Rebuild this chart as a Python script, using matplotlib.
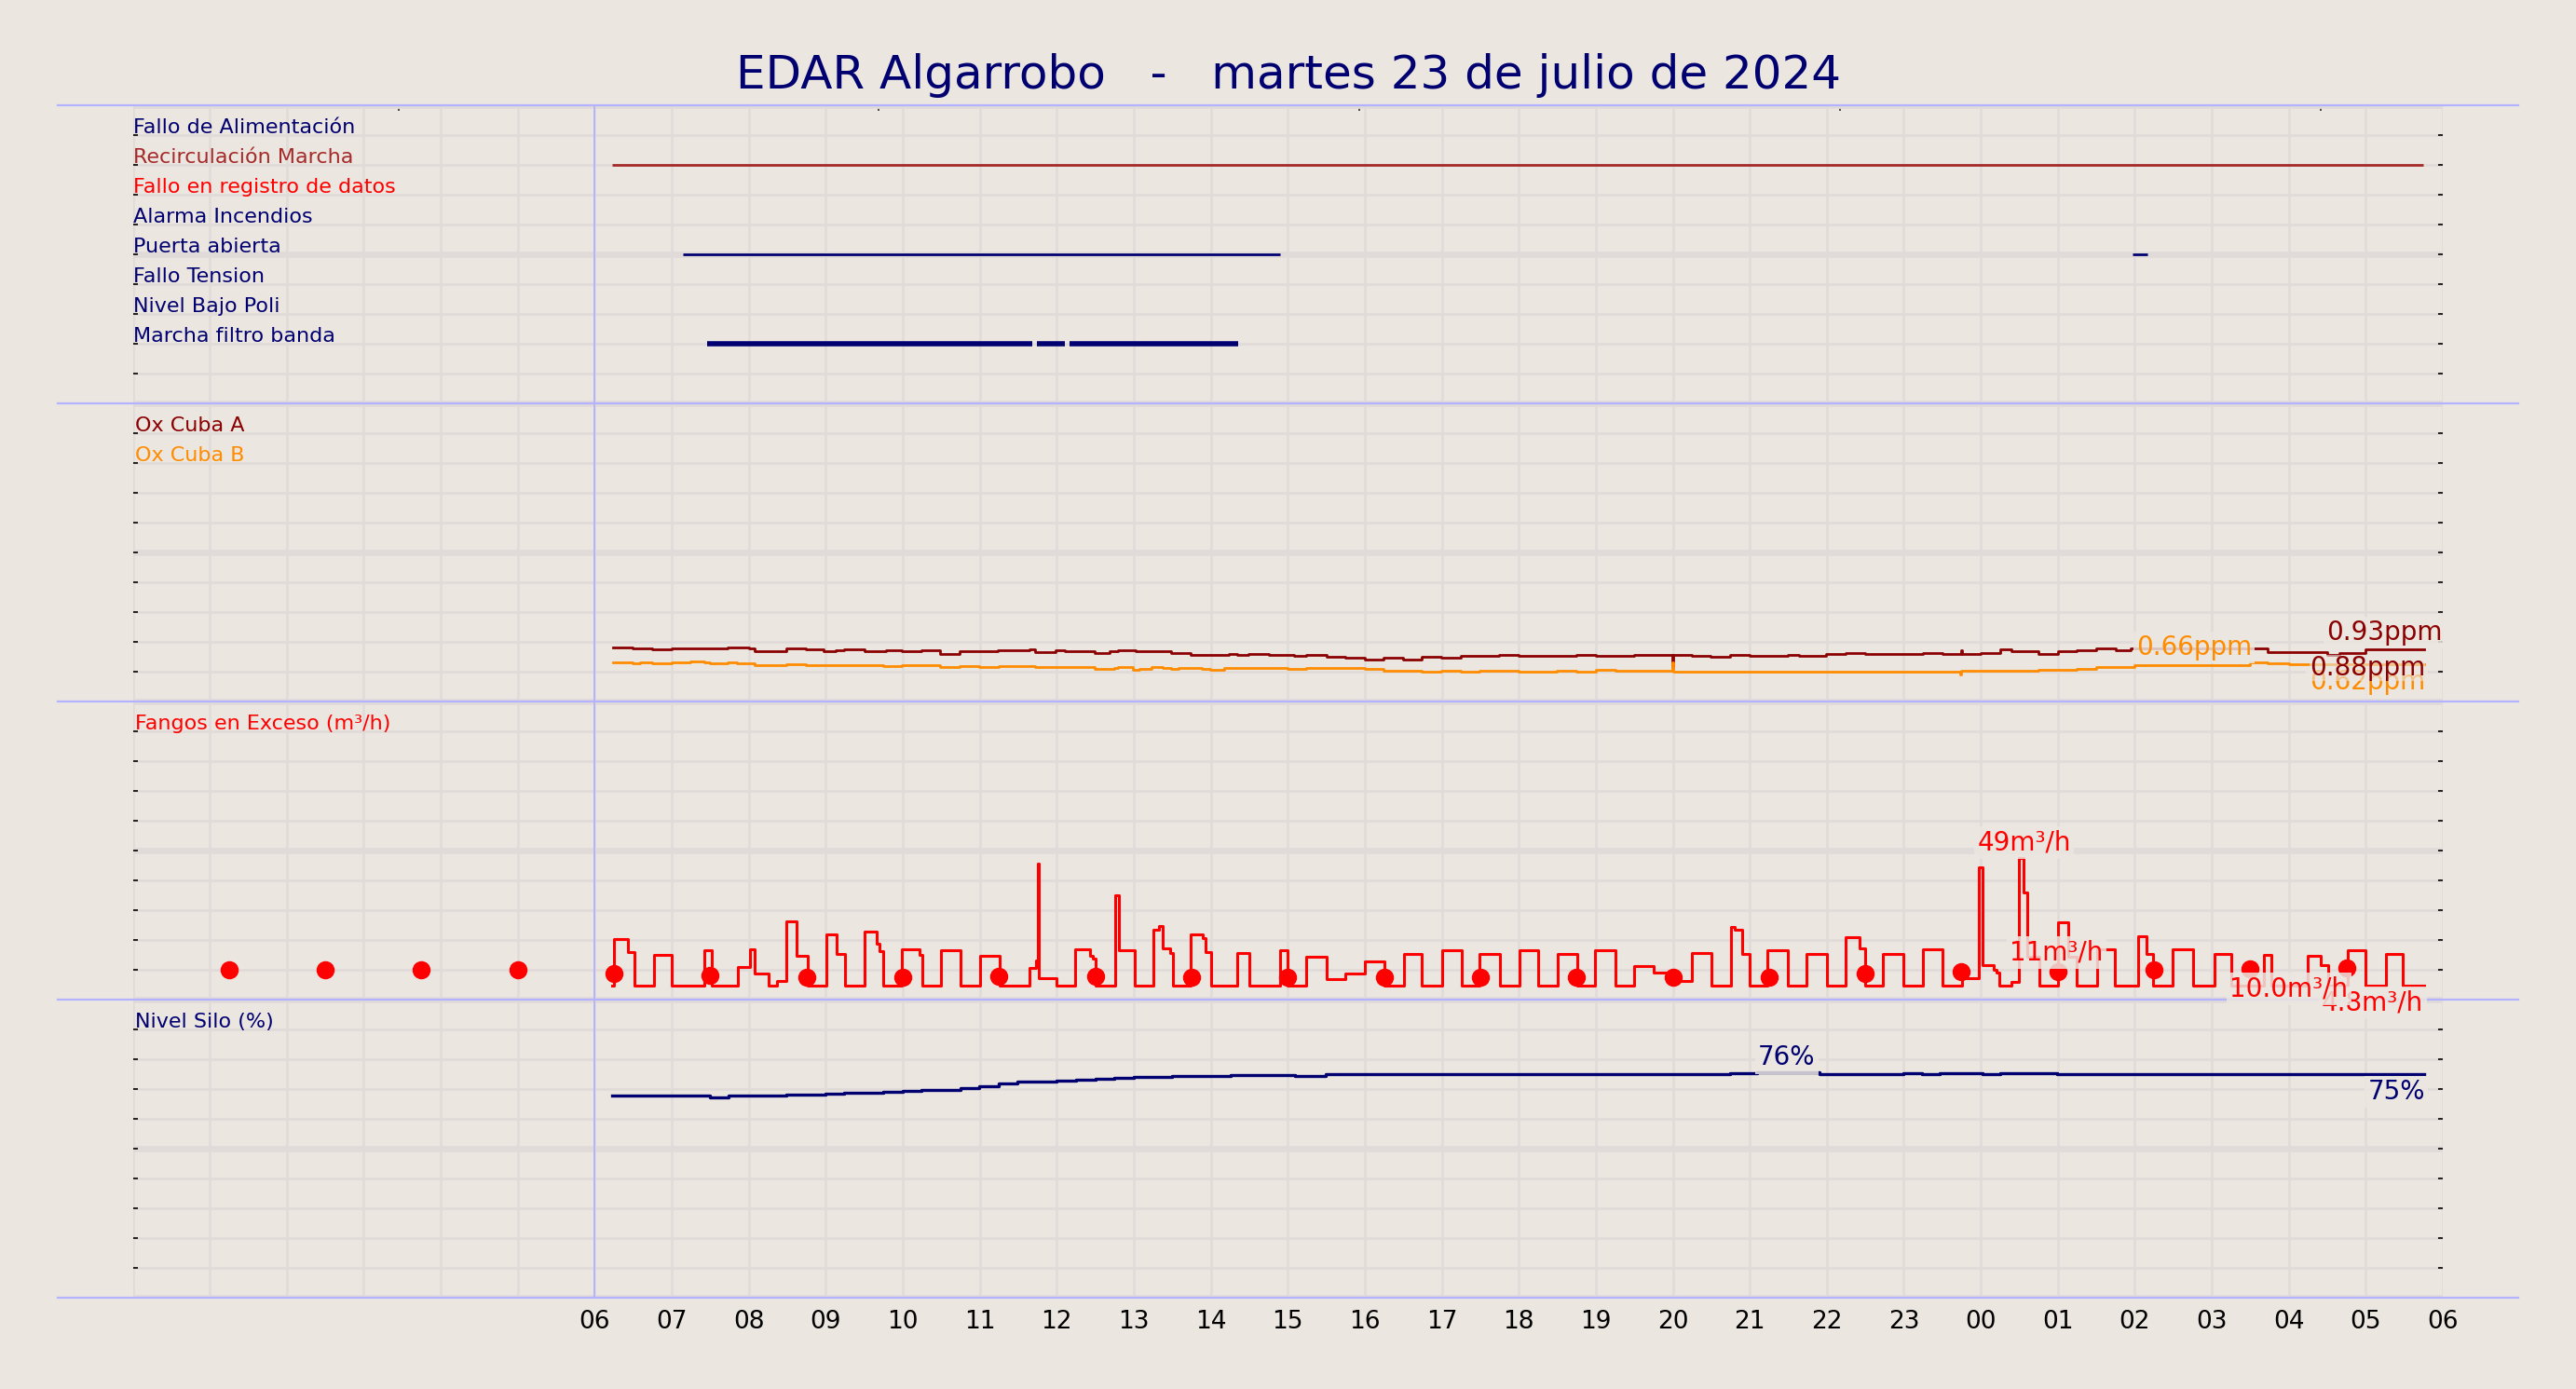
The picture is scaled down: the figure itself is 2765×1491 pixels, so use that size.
import matplotlib
matplotlib.use('Agg')
import matplotlib.pyplot as plt
from matplotlib.lines import Line2D

BG = '#ebe6e0'
GRID = '#e0dbd9'
LAV = '#b3b3ff'
NAVY = '#000070'

title = 'EDAR Algarrobo   -   martes 23 de julio de 2024'

# x axis: hours since 00:00 of the 23rd
hour_ticks = [6, 7, 8, 9, 10, 11, 12, 13, 14, 15, 16, 17, 18, 19, 20, 21, 22, 23,
              24, 25, 26, 27, 28, 29, 30]
hour_labels = ['06', '07', '08', '09', '10', '11', '12', '13', '14', '15', '16', '17',
               '18', '19', '20', '21', '22', '23', '00', '01', '02', '03', '04', '05', '06']
early_hours = [0, 1, 2, 3, 4, 5]
top_ticks = [3.45, 9.69, 15.93, 22.17, 28.41]

# panel 1: events
event_names = ['Fallo de Alimentación', 'Recirculación Marcha', 'Fallo en registro de datos',
               'Alarma Incendios', 'Puerta abierta', 'Fallo Tension', 'Nivel Bajo Poli',
               'Marcha filtro banda']
event_colors = [NAVY, '#a52a2a', 'red', NAVY, NAVY, NAVY, NAVY, NAVY]
event_levels = [9, 8, 7, 6, 5, 4, 3, 2]
recirc_on = [(6.23, 29.74)]
puerta_on = [(7.14, 14.90), (25.97, 26.16)]
filtro_on = [(7.46, 11.68), (11.74, 12.11), (12.17, 14.35)]

# panel 2: oxygen (ppm)
oxa_t = [6.24, 6.49, 6.60, 6.75, 7.00, 7.73, 8.00, 8.08, 8.49, 8.74, 8.97, 9.13, 9.24, 9.50,
         9.78, 9.99, 10.24, 10.49, 10.74, 11.23, 11.64, 11.72, 11.99, 12.10, 12.49, 12.68,
         12.80, 13.02, 13.48, 13.74, 14.23, 14.34, 14.49, 14.76, 15.08, 15.24, 15.50, 15.75,
         16.00, 16.24, 16.50, 16.74, 16.99, 17.25, 17.74, 18.00, 18.75, 19.00, 19.50, 19.99,
         20.01, 20.25, 20.49, 20.75, 21.00, 21.49, 21.64, 21.99, 22.25, 22.50, 23.25, 23.50,
         23.74, 23.76, 24.00, 24.25, 24.40, 24.55, 24.75, 25.00, 25.25, 25.50, 25.75, 25.95,
         27.73, 28.50, 28.66, 29.00, 29.76]
oxa_v = [0.91, 0.895, 0.885, 0.87, 0.885, 0.90, 0.885, 0.85, 0.885, 0.87, 0.845, 0.86, 0.87,
         0.845, 0.86, 0.845, 0.86, 0.80, 0.845, 0.86, 0.87, 0.835, 0.855, 0.845, 0.82, 0.845,
         0.855, 0.845, 0.805, 0.78, 0.79, 0.775, 0.79, 0.775, 0.76, 0.775, 0.745, 0.73,
         0.705, 0.73, 0.705, 0.745, 0.73, 0.76, 0.775, 0.76, 0.775, 0.76, 0.775, 0.58,
         0.775, 0.76, 0.745, 0.775, 0.76, 0.775, 0.76, 0.79, 0.805, 0.80, 0.817, 0.80,
         0.86, 0.80, 0.817, 0.869, 0.843, 0.838, 0.80, 0.843, 0.854, 0.89, 0.864, 0.89,
         0.828, 0.775, 0.812, 0.88, 0.88]
oxb_t = [6.24, 6.49, 6.59, 6.74, 7.00, 7.24, 7.42, 7.50, 7.73, 7.85, 8.00, 8.08, 8.49, 8.74,
         9.75, 9.99, 10.49, 10.74, 10.99, 11.25, 11.72, 12.49, 12.75, 12.80, 12.99, 13.07,
         13.23, 13.37, 13.49, 13.58, 13.88, 13.99, 14.17, 15.00, 15.24, 16.00, 16.24, 16.50,
         16.74, 16.99, 17.25, 17.49, 18.00, 18.49, 18.75, 19.00, 19.25, 19.99, 20.01, 23.00,
         23.73, 23.75, 24.20, 24.75, 25.25, 25.50, 25.75, 26.00, 26.75, 27.50, 27.73, 28.00,
         29.76]
oxb_v = [0.66, 0.64, 0.66, 0.645, 0.66, 0.67, 0.66, 0.645, 0.66, 0.645, 0.635, 0.615, 0.63,
         0.615, 0.60, 0.615, 0.585, 0.60, 0.585, 0.60, 0.585, 0.55, 0.565, 0.585, 0.535, 0.55,
         0.585, 0.565, 0.55, 0.565, 0.55, 0.535, 0.56, 0.54, 0.56, 0.54, 0.52, 0.51, 0.495,
         0.51, 0.495, 0.51, 0.495, 0.51, 0.495, 0.53, 0.51, 0.66, 0.50, 0.505, 0.45, 0.51,
         0.515, 0.531, 0.552, 0.578, 0.583, 0.604, 0.61, 0.661, 0.635, 0.619, 0.619]

# panel 3: excess sludge (m3/h)
fangos_t = [6.23, 6.25, 6.43, 6.51, 6.77, 7.00, 7.42, 7.52, 7.86, 8.01, 8.08, 8.26, 8.37,
            8.49, 8.62, 8.76, 9.01, 9.14, 9.25, 9.50, 9.66, 9.70, 9.75, 9.99, 10.22, 10.26,
            10.50, 10.75, 11.01, 11.26, 11.65, 11.73, 11.75, 11.77, 12.00, 12.24, 12.43,
            12.47, 12.50, 12.76, 12.81, 13.01, 13.25, 13.33, 13.37, 13.47, 13.51, 13.74,
            13.89, 13.93, 14.00, 14.34, 14.50, 14.90, 15.00, 15.24, 15.50, 15.75, 16.00,
            16.25, 16.51, 16.74, 17.00, 17.26, 17.49, 17.75, 18.01, 18.25, 18.50, 18.76,
            18.99, 19.25, 19.50, 19.75, 19.99, 20.25, 20.50, 20.76, 20.80, 20.90, 21.00,
            21.23, 21.50, 21.74, 22.00, 22.24, 22.43, 22.50, 22.73, 23.00, 23.25, 23.50,
            23.76, 23.98, 24.02, 24.17, 24.20, 24.24, 24.40, 24.49, 24.56, 24.60, 24.76,
            25.00, 25.14, 25.24, 25.51, 25.74, 26.04, 26.15, 26.24, 26.49, 26.76, 27.04,
            27.25, 27.68, 27.77, 28.24, 28.41, 28.51, 28.76, 29.00, 29.26, 29.48, 29.76]
fangos_v = [0, 17.6, 12.8, 0, 11.6, 0, 13.4, 0, 7.2, 14.0, 4.5, 0, 1.8,
            24.7, 11.4, 0, 19.4, 12.2, 0, 20.5, 16.1, 13.1, 0, 14.0, 11.7, 0,
            13.4, 0, 11.4, 0, 6.6, 9.6, 46.8, 2.7, 0, 14.0, 11.4,
            10.4, 0, 34.4, 13.4, 0, 21.5, 22.6, 14.1, 12.5, 0, 19.7,
            18.2, 12.9, 0, 12.5, 0, 13.4, 0, 10.8, 2.4, 4.5, 9.3,
            0, 12.2, 0, 13.6, 0, 11.9, 0, 13.6, 0, 12.2, 0,
            13.6, 0, 7.4, 5.0, 1.8, 12.4, 0, 22.5, 21.5, 11.9, 0,
            13.6, 0, 11.9, 0, 18.5, 14.1, 0, 12.2, 0, 13.7, 0,
            2.6, 45.4, 7.8, 6.0, 5.0, 0, 1.4, 49.0, 35.6, 11.0, 0,
            24.3, 11.0, 0, 13.7, 0, 18.9, 11.9, 0, 13.7, 0, 12.2,
            0, 11.7, 0, 11.4, 7.8, 0, 13.4, 0, 11.9, 0, 0]
avg_t = [1.25, 2.5, 3.75, 5.0, 6.25, 7.5, 8.75, 10.0, 11.25, 12.5, 13.75, 15.0, 16.25, 17.5,
         18.75, 20.0, 21.25, 22.5, 23.75, 25.0, 26.25, 27.5, 28.75]
avg_v = [5.9, 5.9, 5.9, 6.1, 4.5, 3.8, 3.2, 3.2, 3.3, 3.3, 3.1, 3.0, 3.0, 3.0, 3.0, 3.2, 3.0,
         4.5, 5.4, 5.4, 6.0, 6.3, 6.6]

# panel 4: silo level (%)
silo_t = [6.23, 7.50, 7.74, 8.49, 9.00, 9.24, 9.74, 10.00, 10.24, 10.75, 10.99, 11.25, 11.49,
          12.00, 12.25, 12.50, 12.75, 13.00, 13.50, 14.26, 15.09, 15.49, 20.74, 21.10, 21.90,
          23.00, 23.24, 23.47, 24.02, 24.25, 24.99, 29.76]
silo_v = [67.8, 67.3, 67.8, 68.1, 68.5, 68.8, 69.1, 69.4, 69.7, 70.2, 70.9, 71.8, 72.4,
          72.7, 73.1, 73.5, 73.8, 74.1, 74.4, 74.7, 74.5, 75.0, 75.3, 75.6, 74.9,
          75.3, 74.9, 75.3, 74.9, 75.3, 74.9, 74.9]

W, H = 2765, 1491
fig = plt.figure(figsize=(W / 200, H / 200), dpi=200, facecolor=BG)

left = 142.5 / W
width = (2622 - 142.5) / W
ph = 320 / H
tops = [113, 433, 753, 1073]
ylims = [(0, 10), (0, 5), (-5.5, 109), (0, 100)]

axes = []
for i, top in enumerate(tops):
    ax = fig.add_axes([left, 1 - (top + 320) / H, width, ph], facecolor=BG)
    lo, hi = ylims[i]
    ax.set_xlim(0, 30)
    ax.set_ylim(lo, hi)
    ax.set_yticks([lo, lo + 0.5 * (hi - lo), hi])
    ax.set_yticks([lo + k / 10 * (hi - lo) for k in (1, 2, 3, 4, 6, 7, 8, 9)], minor=True)
    ax.set_xticks(hour_ticks)
    ax.set_xticks(early_hours, minor=True)
    ax.grid(True, axis='x', which='both', color=GRID, lw=0.9, zorder=0)
    ax.grid(True, axis='y', which='major', color=GRID, lw=2.4, zorder=0)
    ax.grid(True, axis='y', which='minor', color=GRID, lw=1.0, zorder=0)
    ax.set_axisbelow(True)
    for s in ax.spines.values():
        s.set_visible(False)
    ax.tick_params(axis='y', which='both', direction='in', left=True, right=True,
                   labelleft=False, length=1.8, width=0.6, color='black')
    ax.tick_params(axis='x', which='both', length=0, labelbottom=False)
    ax.axvline(6, color=LAV, lw=0.7, zorder=1)
    axes.append(ax)

ax1, ax2, ax3, ax4 = axes
ax4.set_xticks(hour_ticks, hour_labels)
ax4.tick_params(axis='x', which='major', labelbottom=True, labelsize=9.5, pad=4.7)

sec = ax1.secondary_xaxis('top')
sec.set_xticks(top_ticks)
sec.tick_params(direction='in', length=2.2, width=0.6, labeltop=False, color='#333333')
sec.spines['top'].set_visible(False)

lab_kw = dict(fontsize=8, va='baseline', ha='left')

# panel 1
for name, col, lev in zip(event_names, event_colors, event_levels):
    ax1.text(0.001, lev + 0.06, name, color=col, **lab_kw)
for a, b in recirc_on:
    ax1.hlines(8, a, b, color='#a52a2a', lw=1.0, zorder=3)
for a, b in puerta_on:
    ax1.hlines(5, a, b, color=NAVY, lw=1.0, zorder=3)
for a, b in filtro_on:
    ax1.hlines(2, a, b, color=NAVY, lw=2.0, zorder=3)

box = dict(boxstyle='square,pad=0.12', fc=BG, ec='none', alpha=0.85)
thin_box = dict(boxstyle='square,pad=0.0', fc=BG, ec='none', alpha=0.6)

# panel 2
ax2.text(0.001, 0.905, 'Ox Cuba A', color='#8b0000', transform=ax2.transAxes, **lab_kw)
ax2.text(0.001, 0.805, 'Ox Cuba B', color='#ff8c00', transform=ax2.transAxes, **lab_kw)
ax2.step(oxa_t, oxa_v, where='post', color='#8b0000', lw=1.0, zorder=3)
ax2.step(oxb_t, oxb_v, where='post', color='#ff8c00', lw=1.0, zorder=3)
ax2.text(30.0, 1.03, '0.93ppm', color='#8b0000', fontsize=10, ha='right', va='baseline',
         bbox=box, zorder=4)
ax2.text(26.77, 0.78, '0.66ppm', color='#ff8c00', fontsize=10, ha='center', va='baseline',
         bbox=box, zorder=4)
ax2.text(29.77, 0.20, '0.62ppm', color='#ff8c00', fontsize=10, ha='right', va='baseline',
         bbox=box, zorder=4)
ax2.text(29.77, 0.44, '0.88ppm', color='#8b0000', fontsize=10, ha='right', va='baseline',
         bbox=thin_box, zorder=4.5)

# panel 3
ax3.text(0.001, 0.905, 'Fangos en Exceso (m³/h)', color='red', transform=ax3.transAxes,
         **lab_kw)
ax3.step(fangos_t, fangos_v, where='post', color='red', lw=1.1, zorder=3)
ax3.plot(avg_t, avg_v, 'o', color='red', ms=6, zorder=3)
ax3.text(24.56, 52.0, '49m³/h', color='red', fontsize=10, ha='center', va='baseline',
         bbox=box, zorder=4)
ax3.text(24.98, 9.6, '11m³/h', color='red', fontsize=10, ha='center', va='baseline',
         bbox=box, zorder=4)
# these two hang below the panel, so they go on the figure above the next panel
fig.text(29.75, -9.5, '4.8m³/h', color='red', fontsize=10, ha='right', va='baseline',
         transform=ax3.transData, bbox=box, zorder=6)
fig.text(28.0, -4.2, '10.0m³/h', color='red', fontsize=10, ha='center', va='baseline',
         transform=ax3.transData, bbox=box, zorder=7)

# panel 4
ax4.text(0.001, 0.905, 'Nivel Silo (%)', color=NAVY, transform=ax4.transAxes, **lab_kw)
ax4.step(silo_t, silo_v, where='post', color=NAVY, lw=1.2, zorder=3)
ax4.text(21.48, 78.0, '76%', color=NAVY, fontsize=10, ha='center', va='baseline',
         bbox=box, zorder=4)
ax4.text(29.77, 66.6, '75%', color=NAVY, fontsize=10, ha='right', va='baseline',
         bbox=box, zorder=4)

# light separators across the figure
for top in tops + [1393]:
    y = 1 - top / H
    fig.add_artist(Line2D([62 / W, 2703 / W], [y, y], color=LAV, lw=0.8,
                          transform=fig.transFigure, zorder=5))

fig.text(0.5, 1 - 81 / H, title, ha='center', va='center', fontsize=18, color=NAVY)

fig.savefig('out.png', dpi=200, facecolor=BG)
